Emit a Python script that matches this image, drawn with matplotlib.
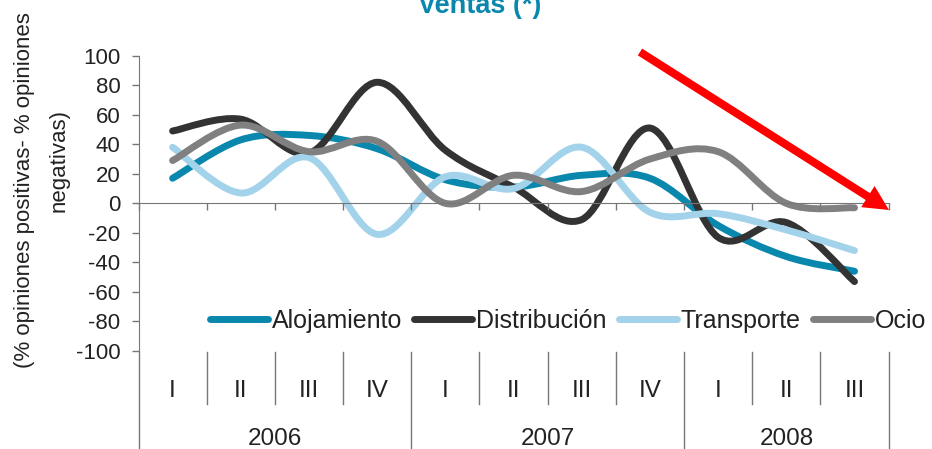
import numpy as np
import matplotlib
matplotlib.use("Agg")
import matplotlib.pyplot as plt
from matplotlib.path import Path
from matplotlib.patches import PathPatch, FancyArrowPatch
from matplotlib.lines import Line2D

plt.rcParams['font.family'] = ['Liberation Sans', 'DejaVu Sans']
plt.rcParams['axes.unicode_minus'] = False

# data (net % of opinions, by quarter)
quarters = ['I', 'II', 'III', 'IV', 'I', 'II', 'III', 'IV', 'I', 'II', 'III']
years = ['2006', '2007', '2008']
quarters_per_year = [4, 4, 3]

alojamiento = [17, 43, 46, 37, 16, 11, 19, 17, -15, -36, -46]
distribucion = [49, 57, 34, 82, 36, 11, -11, 51, -23, -13, -53]
transporte = [38, 7, 31, -21, 18, 10, 38, -6, -7, -18, -32]
ocio = [29, 53, 35, 42, 0, 19, 8, 30, 35, 0, -3]

series = [('Alojamiento', alojamiento, '#0A87AD'),
          ('Distribución', distribucion, '#333333'),
          ('Transporte', transporte, '#A3D3EA'),
          ('Ocio', ocio, '#808080')]

axis_col = '#777777'
text_col = '#222222'


def smooth_path(x, y):
    # excel style smoothed line: bezier segments through every point
    pts = np.column_stack([x, y]).astype(float)
    n = len(pts)
    verts = [pts[0]]
    codes = [Path.MOVETO]
    for i in range(n - 1):
        p0 = pts[max(i - 1, 0)]
        p1 = pts[i]
        p2 = pts[i + 1]
        p3 = pts[min(i + 2, n - 1)]
        verts += [p1 + (p2 - p0) / 6, p2 - (p3 - p1) / 6, p2]
        codes += [Path.CURVE4] * 3
    return Path(verts, codes)


W, H = 932, 449
fig = plt.figure(figsize=(W / 100, H / 100), dpi=100)
x0, x1, ytop, ybot = 138.5, 888.6, 55.7, 351
ax = fig.add_axes([x0 / W, 1 - ybot / H, (x1 - x0) / W, (ybot - ytop) / H])
ax.patch.set_alpha(0)

x = np.arange(len(quarters))
handles = []
for name, vals, col in series:
    ax.add_patch(PathPatch(smooth_path(x, vals), fill=False, edgecolor=col,
                           lw=5, capstyle='round', joinstyle='round'))
    handles.append(Line2D([], [], color=col, lw=5, solid_capstyle='round', label=name))

ax.set_xlim(-0.5, len(quarters) - 0.5)
ax.set_ylim(-100, 100)
ax.set_yticks(np.arange(-100, 101, 20))
ax.tick_params(axis='y', direction='out', length=5, width=1, color=axis_col,
               labelsize=16, labelcolor=text_col, pad=8)

for s in ['top', 'right']:
    ax.spines[s].set_visible(False)
ax.spines['left'].set_color(axis_col)
ax.spines['bottom'].set_position(('data', 0))
ax.spines['bottom'].set_color(axis_col)
ax.set_xticks(np.arange(-0.5, len(quarters), 1))
ax.set_xticklabels([])
ax.tick_params(axis='x', direction='out', length=5, width=1, color=axis_col)

# category axis below the plot
trans = ax.get_xaxis_transform()
fig_bottom = -(H - ybot) / (ybot - ytop)
ax.plot([-0.5, -0.5], [0, fig_bottom], transform=trans, color=axis_col, lw=1, clip_on=False)
year_ends = np.cumsum(quarters_per_year) - 0.5
for b in np.arange(0.5, len(quarters), 1):
    low = fig_bottom if b in year_ends else -(404 - ybot) / (ybot - ytop)
    ax.plot([b, b], [-0.003, low], transform=trans, color=axis_col, lw=1, clip_on=False)
for i, q in enumerate(quarters):
    ax.text(i, -(396.7 - ybot) / (ybot - ytop), q, transform=trans, ha='center',
            va='baseline', fontsize=17.5, color=text_col, clip_on=False)
start = 0
for yr, n in zip(years, quarters_per_year):
    ax.text(start + (n - 1) / 2, -(445 - ybot) / (ybot - ytop), yr, transform=trans,
            ha='center', va='baseline', fontsize=17.5, color=text_col, clip_on=False)
    start += n

# legend
fs = 18
em = fs * 100 / 72
fig.legend(handles=handles, loc='center left', bbox_to_anchor=(210 / W, 1 - 321 / H),
           ncol=4, frameon=False, fontsize=fs, borderpad=0, borderaxespad=0,
           handlelength=58 / em, handletextpad=4 / em, columnspacing=12 / em,
           labelcolor=text_col)

# titles
fig.text(479.5 / W, 1 - 13 / H, 'Ventas (*)', ha='center', va='baseline',
         fontsize=19.5, fontweight='bold', color='#0A87AD')
fig.text(25 / W, 1 - 190 / H, '(% opiniones positivas- % opiniones', rotation=90,
         ha='center', va='center', fontsize=16, color=text_col)
fig.text(59 / W, 1 - 160 / H, 'negativas)', rotation=90,
         ha='center', va='center', fontsize=16, color=text_col)

# red trend arrow
arrow = FancyArrowPatch((640 / W, 1 - 52 / H), (889 / W, 1 - 210 / H),
                        transform=fig.transFigure, shrinkA=0, shrinkB=0,
                        arrowstyle='simple,head_length=1.8,head_width=1.8,tail_width=0.58',
                        mutation_scale=10, color='#FF0000', lw=0, zorder=10)
fig.add_artist(arrow)

fig.savefig('out.png', dpi=100, facecolor='white')
